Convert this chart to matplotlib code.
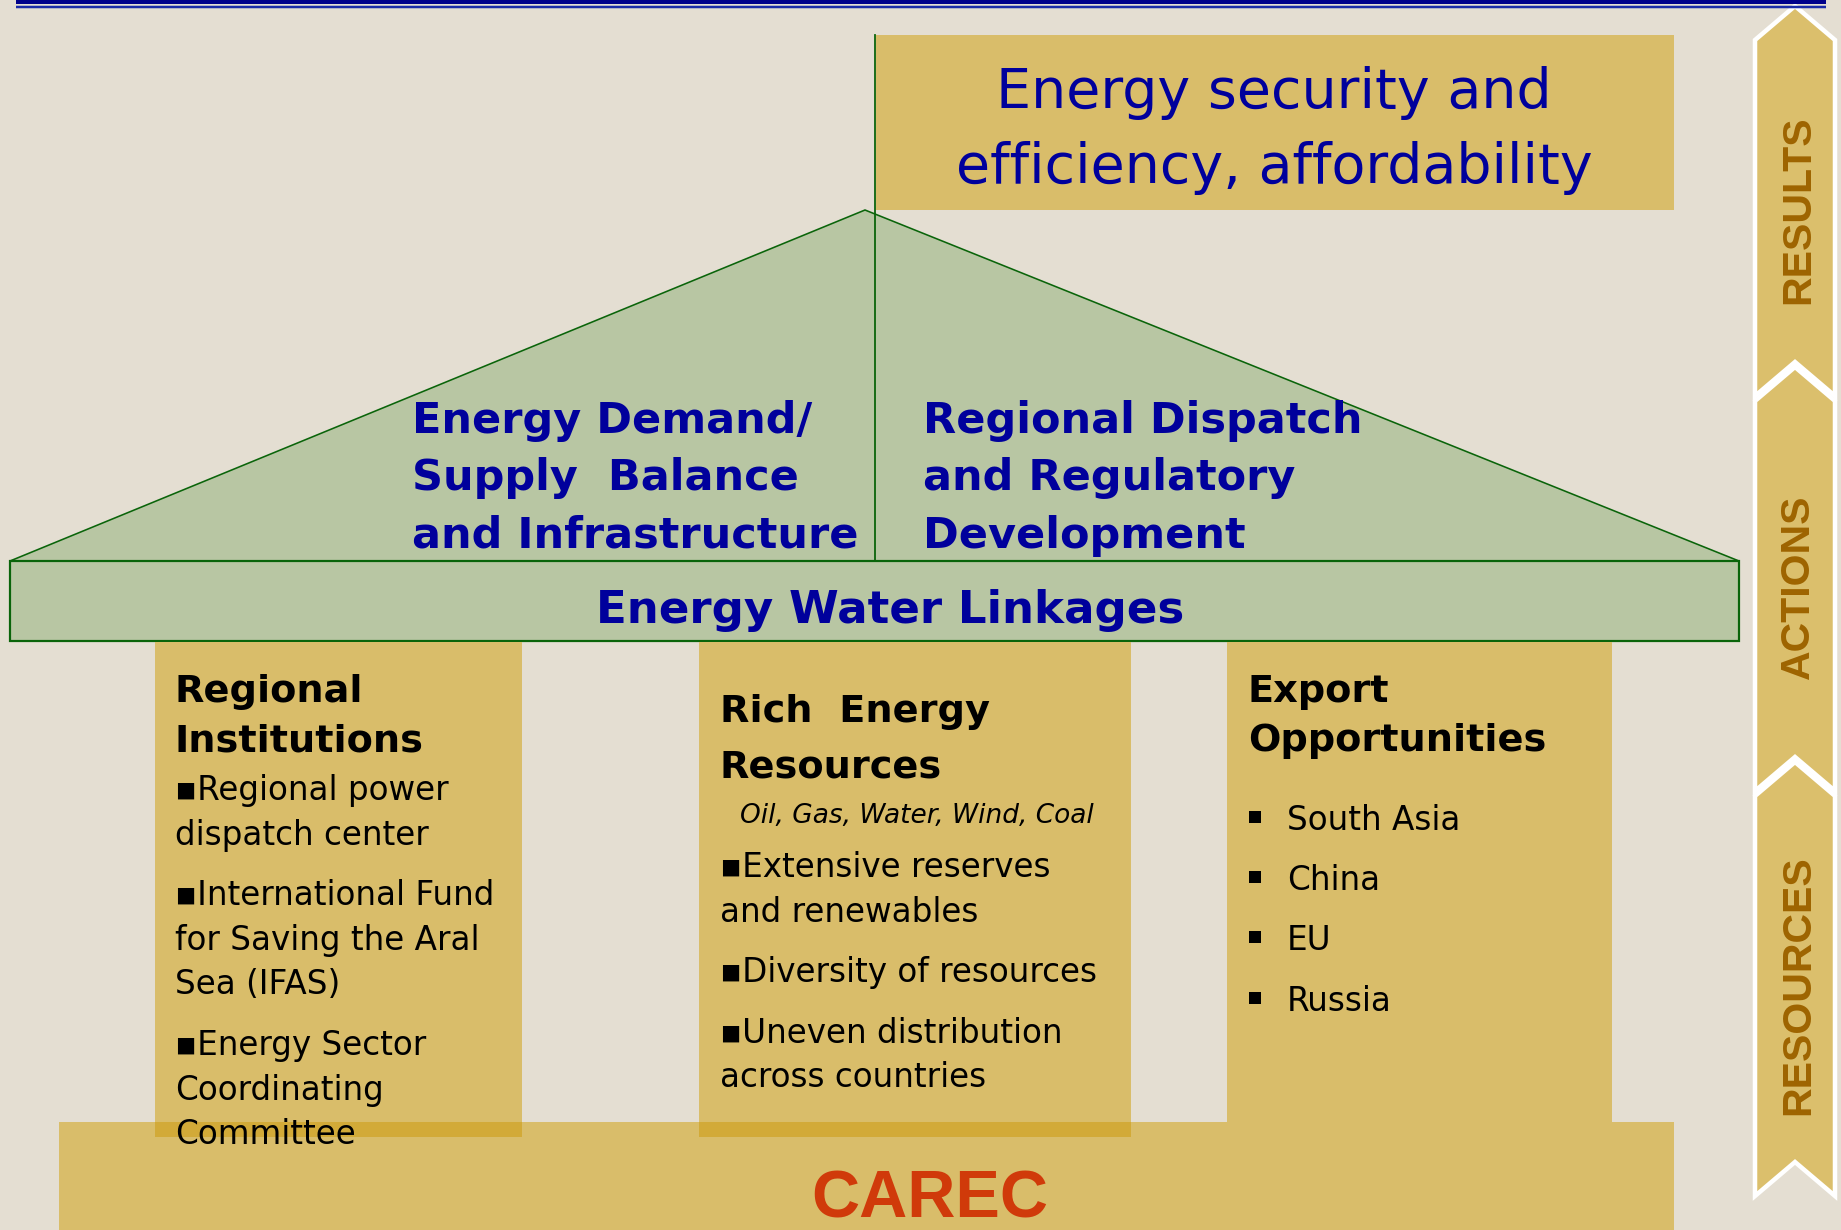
import matplotlib as mpl
mpl.use('Agg')
import matplotlib.pyplot as plt
from matplotlib.patches import Polygon, Rectangle

# canvas in pixels of the original slide
W, H = 1841, 1230

BG = '#E4DED2'
GOLD = '#D9BD6A'
GOLD_DARK = '#D2AA38'
GREEN_FILL = '#B8C6A3'
GREEN_EDGE = '#0A640A'
NAVY = '#00009C'
BROWN = '#9E6400'
CAREC_RED = '#D03A0A'

# --- content ---
top_lines = ['Energy security and', 'efficiency, affordability']
roof_left = ['Energy Demand/', 'Supply  Balance', 'and Infrastructure']
roof_right = ['Regional Dispatch', 'and Regulatory', 'Development']
beam_label = 'Energy Water Linkages'

pillar1_head = ['Regional', 'Institutions']
pillar1_lines = ['\u25aaRegional power', 'dispatch center',
                 '\u25aaInternational Fund', 'for Saving the Aral', 'Sea (IFAS)',
                 '\u25aaEnergy Sector', 'Coordinating', 'Committee']
pillar2_head = ['Rich  Energy', 'Resources']
pillar2_note = 'Oil, Gas, Water, Wind, Coal'
pillar2_lines = ['\u25aaExtensive reserves', 'and renewables',
                 '\u25aaDiversity of resources',
                 '\u25aaUneven distribution', 'across countries']
pillar3_head = ['Export', 'Opportunities']
pillar3_items = ['South Asia', 'China', 'EU', 'Russia']

base_label = 'CAREC'
stages = ['RESULTS', 'ACTIONS', 'RESOURCES']

# --- layout (pixel coords, y down) ---
stage_tips = [(6, 362), (367, 757), (762, 1162)]   # top tip / bottom notch
stage_text_y = [210, 587, 985]
p1_base = [800, 845, 905, 950, 994, 1055, 1100, 1144]
p2_base = [877, 922, 982, 1043, 1087]
p3_base = [830, 890, 950, 1011]

fig = plt.figure(figsize=(W / 100, H / 100), dpi=100)
fig.patch.set_facecolor(BG)
ax = fig.add_axes([0, 0, 1, 1])
ax.set_xlim(0, W)
ax.set_ylim(H, 0)
ax.axis('off')
ax.set_facecolor(BG)

def px(v):
    # pixel size -> points at dpi 100
    return v * 0.72

# top double rule
ax.plot([16, 1826], [2.0, 2.0], color='#00008A', lw=px(4), solid_capstyle='butt')
ax.plot([16, 1826], [6.5, 6.5], color='#1A2AA8', lw=px(2.5), solid_capstyle='butt')

# results box
ax.add_patch(Rectangle((876, 35), 1674 - 876, 210 - 35, facecolor=GOLD, edgecolor='none'))
for s, yb in zip(top_lines, [108, 183]):
    ax.text(1274, yb, s, ha='center', va='baseline', fontsize=40, color=NAVY,
            family='DejaVu Sans')

# roof
ax.add_patch(Polygon([(10, 561), (865, 210), (1739, 561)], closed=True,
                     facecolor=GREEN_FILL, edgecolor=GREEN_EDGE, lw=px(1.6)))
ax.plot([875, 875], [35, 561], color=GREEN_EDGE, lw=px(1.8))
for s, yb in zip(roof_left, [433, 490, 548]):
    ax.text(412, yb, s, ha='left', va='baseline', fontsize=31, fontweight='bold',
            color=NAVY)
for s, yb in zip(roof_right, [433, 490, 548]):
    ax.text(923, yb, s, ha='left', va='baseline', fontsize=31, fontweight='bold',
            color=NAVY)

# beam
ax.add_patch(Rectangle((10, 561), 1739 - 10, 641 - 561, facecolor=GREEN_FILL,
                       edgecolor=GREEN_EDGE, lw=px(2.2)))
ax.text(890, 623, beam_label, ha='center', va='baseline', fontsize=32.5,
        fontweight='bold', color=NAVY)

# base and pillars
ax.add_patch(Rectangle((59, 1122), 1674 - 59, H - 1122 + 5, facecolor=GOLD, edgecolor='none'))
pillars = [(155, 522, 1137), (699, 1131, 1137), (1227, 1612, 1123)]
for x0, x1, yb in pillars:
    ax.add_patch(Rectangle((x0, 641.5), x1 - x0, yb - 641.5, facecolor=GOLD, edgecolor='none'))
for x0, x1, yb in pillars[:2]:
    ax.add_patch(Rectangle((x0, 1122), x1 - x0, yb - 1122, facecolor=GOLD_DARK, edgecolor='none'))

ax.text(930, 1218, base_label, ha='center', va='baseline', fontsize=48,
        fontweight='bold', color=CAREC_RED, family='Liberation Sans')

# pillar 1
for s, yb in zip(pillar1_head, [702, 752]):
    ax.text(175, yb, s, ha='left', va='baseline', fontsize=27.5, fontweight='bold', color='black')
for s, yb in zip(pillar1_lines, p1_base):
    ax.text(175, yb, s, ha='left', va='baseline', fontsize=23.5, color='black')

# pillar 2
for s, yb in zip(pillar2_head, [722, 777]):
    ax.text(720, yb, s, ha='left', va='baseline', fontsize=27.5, fontweight='bold', color='black')
ax.text(740, 823, pillar2_note, ha='left', va='baseline', fontsize=19,
        style='italic', color='black')
for s, yb in zip(pillar2_lines, p2_base):
    ax.text(720, yb, s, ha='left', va='baseline', fontsize=23.5, color='black')

# pillar 3
for s, yb in zip(pillar3_head, [702, 751]):
    ax.text(1248, yb, s, ha='left', va='baseline', fontsize=27.5, fontweight='bold', color='black')
for s, yb in zip(pillar3_items, p3_base):
    ax.add_patch(Rectangle((1249, yb - 19), 12, 12, facecolor='black', edgecolor='none'))
    ax.text(1287, yb, s, ha='left', va='baseline', fontsize=23.5, color='black')

# stage chevrons on the right
cx0, cx1, cxm, rise = 1755, 1835, 1795, 34
for (t, b), label, ty in zip(stage_tips, stages, stage_text_y):
    pts = [(cx0, t + rise), (cxm, t), (cx1, t + rise),
           (cx1, b + rise), (cxm, b), (cx0, b + rise)]
    ax.add_patch(Polygon(pts, closed=True, facecolor='#DBBF6C', edgecolor='white',
                         lw=px(4.5), joinstyle='miter'))
    ax.text(1798, ty, label, ha='center', va='center', rotation=90, fontsize=29.5,
            fontweight='bold', color=BROWN, family='Liberation Sans')

fig.savefig('out.png', dpi=100, facecolor=BG)
